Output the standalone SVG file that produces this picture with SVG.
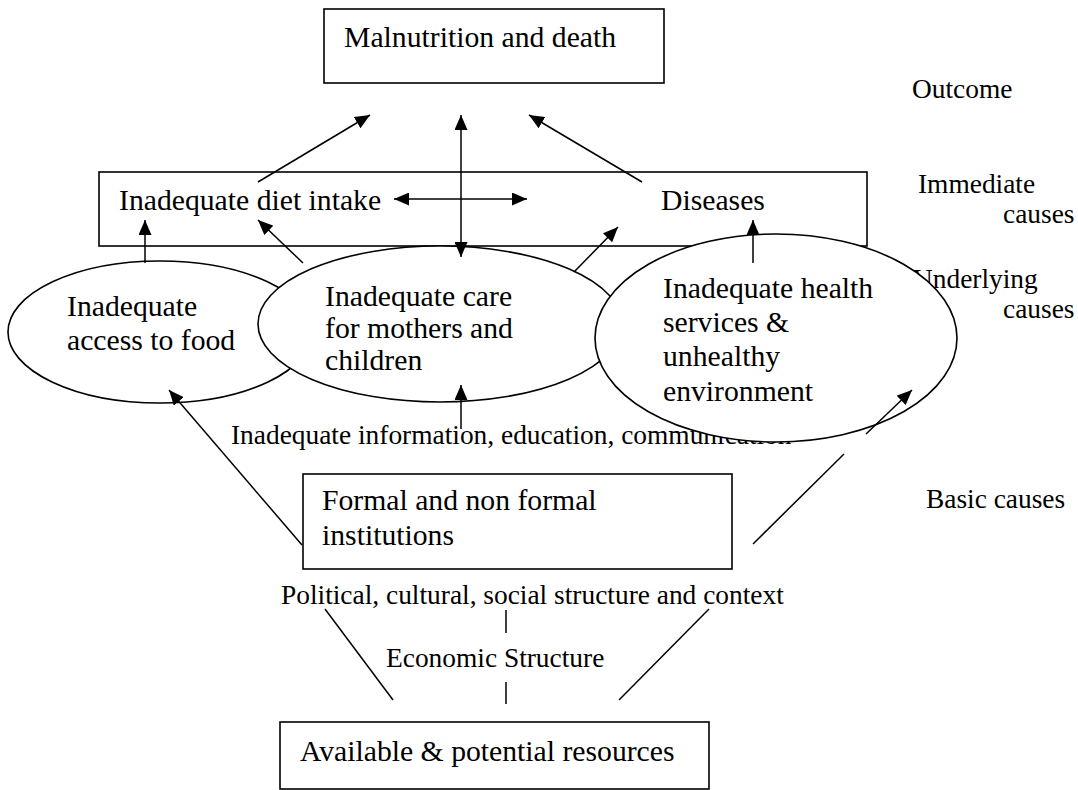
<svg xmlns="http://www.w3.org/2000/svg" width="1078" height="790" viewBox="0 0 1078 790">
<style>
  .bg { fill: #ffffff; }
  .box { fill: #ffffff; stroke: #000000; stroke-width: 1.6; }
  .ell { fill: #ffffff; stroke: #000000; stroke-width: 1.6; }
  .t { font-family: "Liberation Serif", "Times New Roman", serif; font-size: 29.7px; fill: #000000; }
  .a { font-family: "Liberation Serif", "Times New Roman", serif; font-size: 27.4px; fill: #000000; }
  .c { stroke: #000000; stroke-width: 1.5; fill: none; }
  .arr { marker-end: url(#head); }
  .dbl { marker-start: url(#head); marker-end: url(#head); }
</style>
<defs>
  <marker id="head" viewBox="0 0 15 13" refX="15" refY="6.5" markerWidth="15" markerHeight="13" markerUnits="userSpaceOnUse" orient="auto-start-reverse">
    <path d="M0,0 L15,6.5 L0,13 z" fill="#000000"/>
  </marker>
</defs>
<rect class="bg" x="0" y="0" width="1078" height="790"/>

<g id="level-labels">
  <text class="a" x="912" y="98">Outcome</text>
  <text class="a" x="918" y="193">Immediate</text>
  <text class="a" x="1003" y="223">causes</text>
  <text class="a" x="913" y="288">Underlying</text>
  <text class="a" x="1003" y="318">causes</text>
  <text class="a" x="926" y="508">Basic causes</text>
</g>

<g id="label-information">
  <text class="a" x="231" y="444">Inadequate information, education, communication</text>
</g>
<g id="label-political">
  <text class="a" x="281" y="604">Political, cultural, social structure and context</text>
</g>
<g id="label-economic">
  <text class="a" x="386" y="667">Economic Structure</text>
</g>

<g id="node-malnutrition">
  <rect class="box" x="324" y="9" width="340" height="74"/>
  <text class="t" x="344" y="47">Malnutrition and death</text>
</g>

<g id="node-immediate">
  <rect class="box" x="99" y="172" width="768" height="74"/>
  <text class="t" x="119" y="210">Inadequate diet intake</text>
  <text class="t" x="661" y="210">Diseases</text>
</g>

<g id="node-food">
  <ellipse class="ell" cx="160" cy="332" rx="152" ry="71"/>
  <text class="t" x="67" y="316">Inadequate</text>
  <text class="t" x="67" y="350">access to food</text>
</g>

<g id="node-care">
  <ellipse class="ell" cx="440" cy="324" rx="182" ry="78"/>
  <text class="t" x="325" y="306">Inadequate care</text>
  <text class="t" x="325" y="338">for mothers and</text>
  <text class="t" x="325" y="370">children</text>
</g>

<g id="node-health">
  <ellipse class="ell" cx="776" cy="338" rx="181" ry="104"/>
  <text class="t" x="663" y="298">Inadequate health</text>
  <text class="t" x="663" y="332">services &amp;</text>
  <text class="t" x="663" y="366">unhealthy</text>
  <text class="t" x="663" y="401">environment</text>
</g>

<g id="node-institutions">
  <rect class="box" x="303" y="474" width="429" height="95"/>
  <text class="t" x="322" y="510">Formal and non formal</text>
  <text class="t" x="322" y="545">institutions</text>
</g>

<g id="node-resources">
  <rect class="box" x="280" y="722" width="429" height="67"/>
  <text class="t" x="300" y="761">Available &amp; potential resources</text>
</g>

<g id="connectors">
  <line class="c arr" x1="258" y1="182" x2="370" y2="115"/>
  <line class="c dbl" x1="461" y1="257" x2="461" y2="115"/>
  <line class="c arr" x1="642" y1="182" x2="529" y2="115"/>
  <line class="c dbl" x1="394" y1="199" x2="527" y2="199"/>
  <line class="c arr" x1="145" y1="263" x2="145" y2="220"/>
  <line class="c arr" x1="303" y1="263" x2="258" y2="220"/>
  <line class="c arr" x1="574" y1="272" x2="618" y2="227"/>
  <line class="c arr" x1="753" y1="263" x2="753" y2="220"/>
  <line class="c arr" x1="461" y1="429" x2="461" y2="385"/>
  <line class="c arr" x1="302" y1="545" x2="169" y2="390"/>
  <line class="c" x1="753" y1="544" x2="844" y2="454"/>
  <line class="c arr" x1="866" y1="434" x2="912" y2="390"/>
  <line class="c" x1="325" y1="609" x2="393" y2="700"/>
  <line class="c" x1="506" y1="610" x2="506" y2="633"/>
  <line class="c" x1="506" y1="682" x2="506" y2="704"/>
  <line class="c" x1="709" y1="609" x2="619" y2="700"/>
</g>
</svg>
